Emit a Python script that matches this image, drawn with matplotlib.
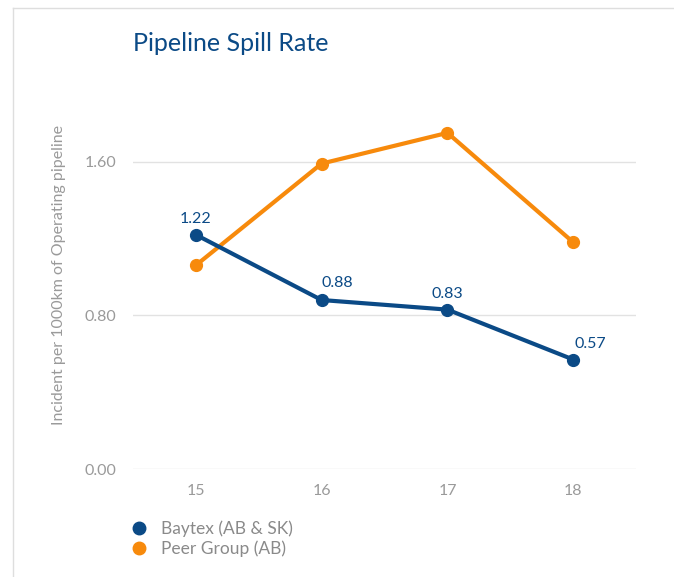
import matplotlib.pyplot as plt
from matplotlib.lines import Line2D


OUTPUT_PATH = "out.png"

YEARS = [15, 16, 17, 18]
BAYTEX = [1.22, 0.88, 0.83, 0.57]
PEER = [1.06, 1.59, 1.75, 1.18]
Y_TICKS = [0.0, 0.8, 1.6]

BLUE = "#0b4a86"
ORANGE = "#f78a0c"
GREY = "#9a9a9a"

# pixel offsets of the value labels (x, y)
LABEL_OFFSETS = [(0, 9), (16, 10), (0, 9), (17, 9)]


def plot_spill_rate():

    plt.rcParams["font.family"] = ["Lato", "DejaVu Sans"]

    fig = plt.figure(figsize=(6.74, 5.77), dpi=100)
    ax = fig.add_axes([0.197, 0.187, 0.747, 0.666])

    ax.plot(YEARS, PEER, color=ORANGE, lw=3, marker="o", ms=8.5,
            solid_capstyle="round", zorder=3, label="Peer Group (AB)")
    ax.plot(YEARS, BAYTEX, color=BLUE, lw=3, marker="o", ms=8.5,
            solid_capstyle="round", zorder=4, label="Baytex (AB & SK)")

    for x, y, off in zip(YEARS, BAYTEX, LABEL_OFFSETS):
        ax.annotate(f"{y:.2f}", (x, y), xytext=off, textcoords="offset pixels",
                    ha="center", va="bottom", color=BLUE, fontsize=11.5)

    ax.set_xlim(14.5, 18.5)
    ax.set_ylim(0, 2.0)
    ax.set_xticks(YEARS)
    ax.set_xticklabels([str(y) for y in YEARS])
    ax.set_yticks(Y_TICKS)
    ax.set_yticklabels([f"{t:.2f}" for t in Y_TICKS])

    ax.grid(axis="y", color="#e2e2e2", lw=1)
    ax.set_axisbelow(True)
    for s in ax.spines.values():
        s.set_visible(False)
    ax.tick_params(length=0, colors=GREY, labelsize=11.5)
    ax.tick_params(axis="x", pad=11)
    ax.tick_params(axis="y", pad=12)

    ax.set_ylabel("Incident per 1000km of Operating pipeline",
                  color=GREY, fontsize=11.5)
    ax.yaxis.set_label_coords(-0.133, 0.505)

    fig.text(0.197, 0.925, "Pipeline Spill Rate", color=BLUE,
             fontsize=18, va="center", ha="left")

    handles = [
        Line2D([], [], color=BLUE, marker="o", ls="none", ms=9),
        Line2D([], [], color=ORANGE, marker="o", ls="none", ms=9),
    ]
    leg = fig.legend(handles, ["Baytex (AB & SK)", "Peer Group (AB)"],
                     loc="upper left", bbox_to_anchor=(0.170, 0.110),
                     frameon=False, fontsize=12.5, handletextpad=0.3,
                     labelspacing=0.2, borderaxespad=0)
    for t in leg.get_texts():
        t.set_color("#8a8a8a")

    # light frame around the card
    fig.add_artist(Line2D([13 / 674, 1], [1 - 8 / 577, 1 - 8 / 577],
                          transform=fig.transFigure, color="#dedede", lw=1))
    fig.add_artist(Line2D([13 / 674, 13 / 674], [0, 1 - 8 / 577],
                          transform=fig.transFigure, color="#dedede", lw=1))

    fig.savefig(OUTPUT_PATH, dpi=100)


if __name__ == "__main__":

    plot_spill_rate()
